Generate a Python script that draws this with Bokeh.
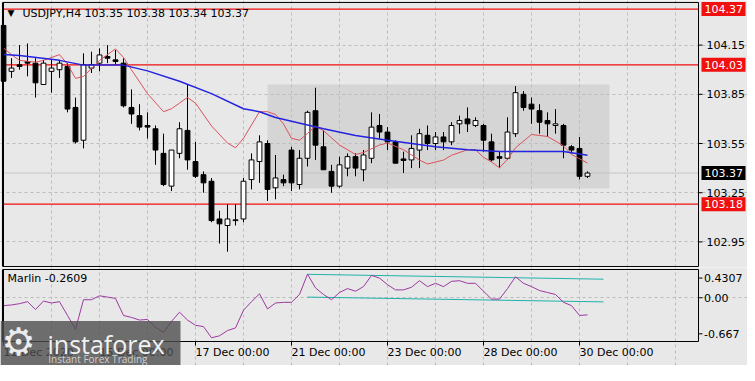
from bokeh.plotting import figure
from bokeh.models import FixedTicker, Range1d
from bokeh.layouts import column
from bokeh.embed import file_html
from bokeh.resources import INLINE
from bokeh.core.properties import value

# ---------------- data ----------------
symbol_title = "USDJPY,H4   103.35 103.38 103.34 103.37"
osc_title = "Marlin -0.2609"

opens = [104.27, 103.99, 104.03, 104.05, 104.04, 103.91, 103.99, 104.00, 104.02, 103.77,
         103.57, 104.01, 104.04, 104.08, 104.06, 104.04, 103.77, 103.72, 103.66, 103.64,
         103.49, 103.29, 103.49, 103.63, 103.44, 103.36, 103.32, 103.09, 103.05, 103.08,
         103.09, 103.33, 103.44, 103.55, 103.28, 103.33, 103.51, 103.30, 103.46, 103.75,
         103.53, 103.38, 103.29, 103.40, 103.47, 103.39, 103.46, 103.66, 103.62, 103.56,
         103.456, 103.45, 103.51, 103.60, 103.55, 103.59, 103.56, 103.67, 103.70, 103.66,
         103.66, 103.56, 103.47, 103.46, 103.61, 103.85, 103.79, 103.75, 103.69, 103.66,
         103.66, 103.53, 103.52, 103.35]
highs = [104.28, 104.07, 104.15, 104.16, 104.07, 104.06, 104.06, 104.06, 104.04, 103.83,
         104.10, 104.11, 104.13, 104.15, 104.12, 104.07, 103.88, 103.79, 103.74, 103.66,
         103.61, 103.51, 103.68, 103.91, 103.56, 103.38, 103.34, 103.14, 103.18, 103.18,
         103.34, 103.49, 103.60, 103.57, 103.48, 103.36, 103.53, 103.51, 103.75, 103.89,
         103.63, 103.42, 103.47, 103.49, 103.49, 103.51, 103.74, 103.73, 103.65, 103.57,
         103.50, 103.60, 103.64, 103.66, 103.62, 103.62, 103.68, 103.72, 103.77, 103.71,
         103.67, 103.61, 103.50, 103.71, 103.90, 103.87, 103.83, 103.79, 103.74, 103.76,
         103.67, 103.54, 103.59, 103.38]
lows = [103.92, 103.95, 104.00, 103.96, 103.83, 103.91, 103.86, 103.95, 103.74, 103.55,
        103.52, 103.98, 103.99, 104.04, 104.03, 103.77, 103.67, 103.63, 103.58, 103.42,
        103.29, 103.26, 103.46, 103.39, 103.34, 103.25, 103.07, 102.94, 102.89, 103.05,
        103.07, 103.27, 103.31, 103.20, 103.21, 103.29, 103.26, 103.27, 103.41, 103.45,
        103.39, 103.25, 103.28, 103.35, 103.35, 103.32, 103.43, 103.58, 103.51, 103.43,
        103.37, 103.40, 103.40, 103.51, 103.51, 103.51, 103.54, 103.61, 103.62, 103.65,
        103.50, 103.44, 103.40, 103.45, 103.59, 103.75, 103.67, 103.61, 103.59, 103.61,
        103.46, 103.49, 103.33, 103.34]
closes = [103.93, 104.01, 104.02, 104.04, 103.92, 104.04, 104.01, 104.04, 103.76, 103.56,
          104.03, 104.03, 104.09, 104.07, 104.05, 103.78, 103.73, 103.65, 103.65, 103.51,
          103.30, 103.51, 103.64, 103.45, 103.35, 103.31, 103.08, 103.06, 103.09, 103.085,
          103.32, 103.45, 103.56, 103.27, 103.34, 103.31, 103.31, 103.46, 103.74, 103.54,
          103.39, 103.29, 103.42, 103.47, 103.40, 103.48, 103.65, 103.62, 103.56, 103.43,
          103.447, 103.52, 103.61, 103.55, 103.59, 103.56, 103.66, 103.69, 103.67, 103.69,
          103.57, 103.45, 103.46, 103.62, 103.86, 103.77, 103.76, 103.68, 103.67, 103.67,
          103.54, 103.51, 103.35, 103.37]
bars = list(range(len(opens)))

blue_bars = [0, 2, 7, 10, 15, 18, 22, 26, 30, 32, 34, 36, 40, 44, 48, 54, 58, 62, 70, 73]
blue_vals = [104.092, 104.086, 104.057, 104.028, 104.028, 103.993, 103.930, 103.854, 103.762,
             103.744, 103.709, 103.686, 103.640, 103.599, 103.570, 103.530, 103.512, 103.501,
             103.501, 103.478]

red_bars = [0, 1, 2, 4, 5, 7, 8, 9, 10, 12, 14, 15, 16, 18, 20, 21, 23, 24, 26, 28, 29, 30,
            32, 33, 34, 35, 36, 37, 38, 39, 40, 42, 44, 45, 47, 48, 50, 52, 53, 55, 56, 58,
            59, 60, 61, 62, 63, 64, 66, 68, 70, 71, 73]
red_vals = [104.133, 104.092, 104.057, 104.046, 104.057, 104.092, 104.034, 103.947, 103.959,
            104.057, 104.127, 104.075, 103.999, 103.854, 103.744, 103.762, 103.831, 103.796,
            103.657, 103.553, 103.524, 103.582, 103.744, 103.744, 103.727, 103.669, 103.582,
            103.570, 103.611, 103.657, 103.628, 103.541, 103.483, 103.495, 103.541, 103.553,
            103.512, 103.449, 103.425, 103.449, 103.478, 103.512, 103.512, 103.466, 103.437,
            103.402, 103.454, 103.524, 103.605, 103.593, 103.536, 103.483, 103.431]

marlin = [-0.12, -0.11, -0.09, -0.06, -0.18, -0.05, -0.08, -0.06, -0.27, -0.48,
          -0.03, -0.03, 0.03, 0.01, -0.01, -0.27, -0.30, -0.34, -0.33, -0.45,
          -0.53, -0.36, -0.22, -0.34, -0.42, -0.44, -0.61, -0.58, -0.50, -0.46,
          -0.19, -0.06, 0.06, -0.17, -0.08, -0.07, -0.07, 0.05, 0.36, 0.15,
          0.05, -0.03, 0.08, 0.14, 0.10, 0.17, 0.34, 0.30, 0.20, 0.12,
          0.12, 0.16, 0.26, 0.17, 0.22, 0.17, 0.25, 0.26, 0.22, 0.22,
          0.10, -0.02, -0.02, 0.14, 0.32, 0.22, 0.17, 0.11, 0.08, 0.05,
          -0.07, -0.12, -0.27, -0.261]

chan_bars = [38, 75]
chan_upper = [0.357, 0.283]
chan_lower = [0.010, -0.063]

levels = [104.37, 104.03, 103.18]
level_labels = ["104.37", "104.03", "103.18"]
bid_price = 103.37
bid_label = "103.37"

box_left, box_right, box_top, box_bottom = 33, 75.75, 103.91, 103.275

price_ticks = [104.15, 103.85, 103.55, 103.25, 102.95]
price_tick_labels = ["104.15", "103.85", "103.55", "103.25", "102.95"]
osc_max, osc_min = 0.4307, -0.667
osc_ticks = [0.30, 0.0, -0.55]
osc_tick_labels = ["0.4307", "0.00", "-0.667"]
date_ticks = [0, 12, 24, 36, 48, 60, 72]
date_labels = ["11 Dec 2020", "15 Dec 00:00", "17 Dec 00:00", "21 Dec 00:00",
               "23 Dec 00:00", "28 Dec 00:00", "30 Dec 00:00"]
grid_bars = list(range(6, 87, 6))
price_top, price_bottom = 104.41, 102.80

# ---------------- style / geometry ----------------
BG = "#e8e8e8"
RED = "#f01010"
GRID = "#bdbdbd"
FONT = "DejaVu Sans"
XL, XR = -0.0625, 86.875          # panel borders (bars)
XC0, XC1 = -0.375, 93.0           # whole canvas (bars)
TICK_X1 = XR + 0.5
LABEL_X = XR + 1.0
BADGE_X = XR + 3.125
BADGE_TX = XR + 0.75


def base_fig(h, yr):
    f = figure(width=747, height=h, output_backend="svg", toolbar_location=None,
               x_range=Range1d(XC0, XC1), y_range=yr,
               min_border_left=0, min_border_right=0, min_border_top=0, min_border_bottom=0,
               background_fill_color=BG, border_fill_color=BG,
               x_axis_location=None, y_axis_location=None)
    f.outline_line_color = None
    for g in (f.xgrid, f.ygrid):
        g.grid_line_color = GRID
        g.grid_line_dash = "3 3"
        g.grid_line_width = 1
    return f


# ---------------- main price panel ----------------
p = base_fig(267, Range1d(102.794, 104.422))
p.xgrid.ticker = FixedTicker(ticks=grid_bars)
p.xgrid.bounds = (price_bottom, price_top)
p.ygrid.ticker = FixedTicker(ticks=price_ticks)
p.ygrid.bounds = (XL, XR)

p.quad(left=[box_left], right=[box_right], top=[box_top], bottom=[box_bottom],
       fill_color="#d5d5d5", line_color=None, level="image")

p.segment(x0=[XL], x1=[XR], y0=[bid_price], y1=[bid_price], line_color="#c6c6c6", line_width=1)
p.segment(x0=[XL] * len(levels), x1=[XR] * len(levels), y0=levels, y1=levels,
          line_color=RED, line_width=1.3)

body_top = [max(o, c) for o, c in zip(opens, closes)]
body_bot = [min(o, c) for o, c in zip(opens, closes)]
body_col = ["white" if c >= o else "black" for o, c in zip(opens, closes)]
p.segment(x0=bars, y0=lows, x1=bars, y1=highs, line_color="black", line_width=1)
p.vbar(x=bars, width=0.6, top=body_top, bottom=body_bot, fill_color=body_col,
       line_color="black", line_width=1)

p.line(red_bars, red_vals, line_color="#d9535d", line_width=1)
p.line(blue_bars, blue_vals, line_color="#2323e0", line_width=1.5)

# panel border
p.quad(left=[XL], right=[XR], top=[price_top], bottom=[price_bottom],
       fill_color=None, line_color="black", line_width=1)
p.segment(x0=[XL], x1=[XL], y0=[price_bottom], y1=[price_top], line_color="black", line_width=2)

# title
p.text(x=[0.5], y=[104.346], text=["\u25bc"], text_font=value(FONT), text_font_size="9px",
       text_color="black", text_baseline="middle")
p.text(x=[2.375], y=[104.343], text=[symbol_title], text_font=value(FONT),
       text_font_size="11px", text_color="black", text_baseline="middle")

# right price scale
p.segment(x0=[XR] * len(price_ticks), x1=[TICK_X1] * len(price_ticks),
          y0=price_ticks, y1=price_ticks, line_color="black", line_width=1)
p.text(x=[LABEL_X] * len(price_ticks), y=price_ticks, text=price_tick_labels,
       text_font=value(FONT), text_font_size="11px", text_color="black", text_baseline="middle")
p.rect(x=[BADGE_X] * len(levels), y=levels, width=44, height=14, width_units="screen",
       height_units="screen", fill_color=RED, line_color=None)
p.text(x=[BADGE_TX] * len(levels), y=levels, text=level_labels, text_font=value(FONT),
       text_font_size="11px", text_color="white", text_baseline="middle")
p.rect(x=[BADGE_X], y=[bid_price], width=44, height=14, width_units="screen",
       height_units="screen", fill_color="black", line_color=None)
p.text(x=[BADGE_TX], y=[bid_price], text=[bid_label], text_font=value(FONT),
       text_font_size="11px", text_color="white", text_baseline="middle")

# ---------------- oscillator panel ----------------
q = base_fig(98, Range1d(-1.0329, 0.4612))
q.xgrid.ticker = FixedTicker(ticks=grid_bars)
q.xgrid.bounds = (osc_min, osc_max)
q.ygrid.ticker = FixedTicker(ticks=[0])
q.ygrid.bounds = (XL, XR)

q.line(chan_bars, chan_upper, line_color="#20b2aa", line_width=1)
q.line(chan_bars, chan_lower, line_color="#20b2aa", line_width=1)
q.line(bars, marlin, line_color="#9b3a9e", line_width=1)

q.quad(left=[XL], right=[XR], top=[osc_max], bottom=[osc_min],
       fill_color=None, line_color="black", line_width=1)
q.segment(x0=[XL], x1=[XL], y0=[osc_min], y1=[osc_max], line_color="black", line_width=2)

q.text(x=[0.5], y=[0.2965], text=[osc_title], text_font=value(FONT), text_font_size="11px",
       text_color="black", text_baseline="middle")

# right oscillator scale
q.segment(x0=[XR] * len(osc_ticks), x1=[TICK_X1] * len(osc_ticks), y0=osc_ticks,
          y1=osc_ticks, line_color="black", line_width=1)
q.text(x=[LABEL_X - 0.3] * len(osc_ticks), y=osc_ticks, text=osc_tick_labels,
       text_font=value(FONT), text_font_size="11px", text_color="black", text_baseline="middle")

# time scale
q.segment(x0=date_ticks, x1=date_ticks, y0=[osc_min] * len(date_ticks),
          y1=[-0.728] * len(date_ticks), line_color="black", line_width=1)
q.text(x=date_ticks, y=[-0.8347] * len(date_ticks), text=date_labels, text_font=value(FONT),
       text_font_size="11px", text_color="black", text_baseline="middle", text_align="left")

# watermark
q.quad(left=[XC0], right=[22.125], top=[-0.356], bottom=[-1.04],
       fill_color="#4d4d4d", fill_alpha=0.8, line_color=None)
q.text(x=[-0.25], y=[-0.675], text=["\u2699"], text_font=value(FONT), text_font_size="38px",
       text_color="#ececec", text_baseline="middle")
q.text(x=[5.5], y=[-0.70], text=["instaforex"], text_font=value("Open Sans"),
       text_font_size="25px", text_color="#f2f2f2", text_baseline="alphabetic")
q.text(x=[5.6], y=[-0.935], text=["Instant Forex Trading"], text_font=value("Open Sans"),
       text_font_size="10px", text_color="#cfcfcf", text_baseline="alphabetic")

layout = column(p, q, spacing=0)
open("out.html", "w").write(file_html(layout, INLINE))
